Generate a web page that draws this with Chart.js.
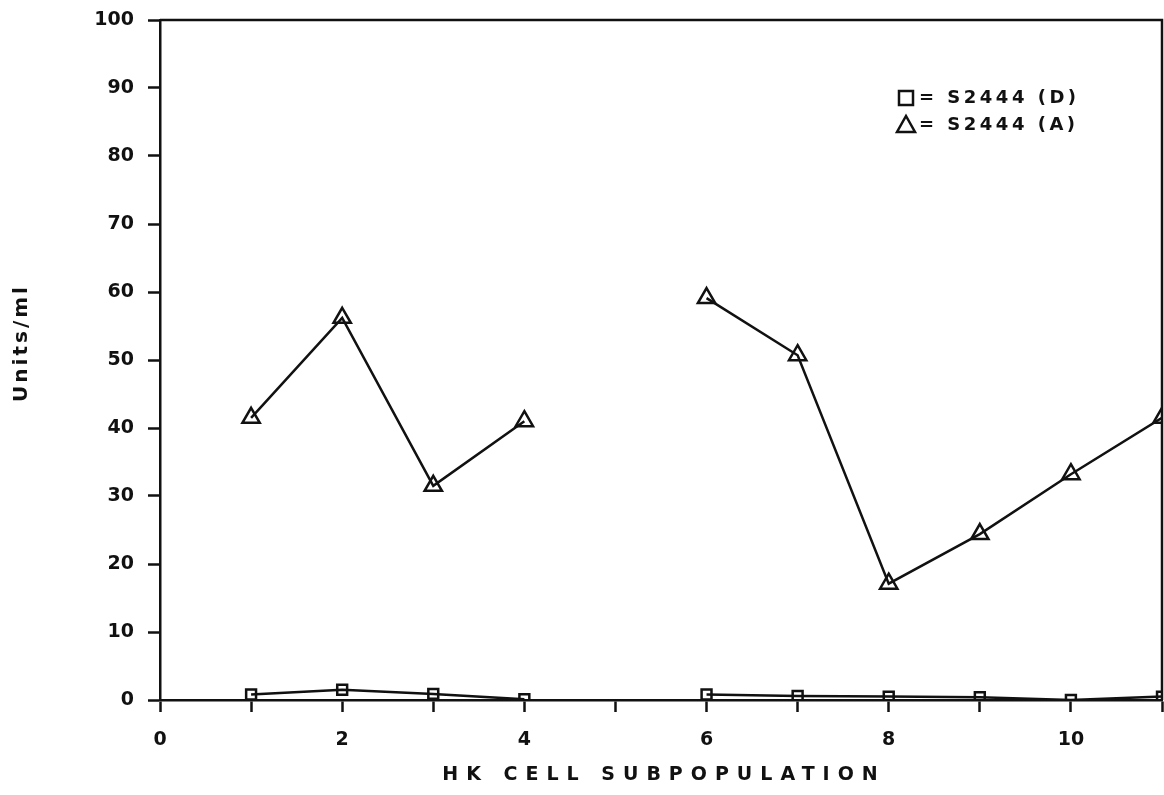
<!DOCTYPE html>
<html>
<head>
<meta charset="utf-8">
<script src="https://cdn.jsdelivr.net/npm/chart.js@4.4.0/dist/chart.umd.min.js"></script>
<style>
    html, body { margin: 0; padding: 0; background: #fff; overflow: hidden; }
    #wrap { width: 1164px; height: 795px; }
</style>
</head>
<body>
<div id="wrap"><canvas id="chart"></canvas></div>
<script>
// Data (x = HK cell subpopulation, null = no point at 5)
const subpops = [1, 2, 3, 4, 5, 6, 7, 8, 9, 10, 11];
const s2444D = [0.8, 1.5, 0.9, 0.1, null, 0.8, 0.6, 0.5, 0.4, 0.0, 0.5];
const s2444A = [41.5, 56.2, 31.5, 41.0, null, 59.1, 50.7, 17.1, 24.4, 33.2, 41.5];
const xTickLabels = ['0', '', '2', '', '4', '', '6', '', '8', '', '10', ''];
const legendItems = ['= S2444 (D)', '= S2444 (A)'];
const xTitle = 'HK CELL SUBPOPULATION';
const yTitle = 'Units/ml';

const FONT = "'DejaVu Sans', sans-serif";
const INK = '#111';

function toPoints(values) {
    return subpops.map((x, i) => ({ x: x, y: values[i] }));
}

// Box round the plot area, axis titles and legend (spaced out like the original)
const framePlugin = {
    id: 'frame',
    afterDraw(chart) {
        const ctx = chart.ctx;
        const a = chart.chartArea;
        ctx.save();
        ctx.strokeStyle = INK;
        ctx.lineWidth = 2.5;
        ctx.beginPath();
        ctx.moveTo(a.left, a.top);
        ctx.lineTo(a.right, a.top);
        ctx.lineTo(a.right, a.bottom);
        ctx.stroke();

        ctx.fillStyle = INK;
        ctx.textAlign = 'center';
        ctx.textBaseline = 'middle';

        // x title
        ctx.font = 'bold 19px ' + FONT;
        ctx.letterSpacing = '8px';
        ctx.fillText(xTitle, 664, 775);

        // y title
        ctx.save();
        ctx.translate(22, 343);
        ctx.rotate(-Math.PI / 2);
        ctx.font = 'bold 20px ' + FONT;
        ctx.letterSpacing = '3px';
        ctx.fillText(yTitle, 0, 0);
        ctx.restore();

        // legend
        ctx.font = 'bold 18px ' + FONT;
        ctx.letterSpacing = '3.5px';
        ctx.textAlign = 'left';
        const lx = 906, ly = [98, 125];
        ctx.lineWidth = 2.5;
        ctx.strokeRect(lx - 7, ly[0] - 7, 14, 14);
        ctx.beginPath();
        ctx.moveTo(lx - 9, ly[1] + 7);
        ctx.lineTo(lx + 9, ly[1] + 7);
        ctx.lineTo(lx, ly[1] - 9);
        ctx.closePath();
        ctx.stroke();
        legendItems.forEach((t, i) => ctx.fillText(t, lx + 13, ly[i]));
        ctx.letterSpacing = '0px';
        ctx.restore();
    }
};

new Chart(document.getElementById('chart'), {
    type: 'line',
    data: {
        datasets: [
            {
                label: 'S2444 (D)',
                data: toPoints(s2444D),
                borderColor: INK,
                borderWidth: 2.5,
                pointStyle: 'rect',
                pointRadius: 7,
                pointBorderWidth: 2.5,
                pointBackgroundColor: 'rgba(255,255,255,0)',
                pointBorderColor: INK,
                spanGaps: false
            },
            {
                label: 'S2444 (A)',
                data: toPoints(s2444A),
                borderColor: INK,
                borderWidth: 2.5,
                pointStyle: 'triangle',
                pointRadius: 10,
                pointBorderWidth: 2.5,
                pointBackgroundColor: 'rgba(255,255,255,0)',
                pointBorderColor: INK,
                spanGaps: false
            }
        ]
    },
    options: {
        responsive: true,
        maintainAspectRatio: false,
        animation: false,
        layout: { autoPadding: false, padding: { top: 20, right: 2, left: 0, bottom: 0 } },
        plugins: {
            legend: { display: false },
            tooltip: { enabled: false }
        },
        scales: {
            x: {
                type: 'linear',
                min: 0,
                max: 11,
                afterFit: (s) => { s.height = 95; s.paddingLeft = 0; s.paddingRight = 0; },
                ticks: {
                    stepSize: 1,
                    autoSkip: false,
                    maxRotation: 0,
                    padding: 17,
                    color: INK,
                    font: { family: FONT, size: 19, weight: 'bold' },
                    callback: (v) => xTickLabels[v]
                },
                grid: {
                    drawOnChartArea: false,
                    tickLength: 12,
                    tickWidth: 2.5,
                    tickColor: INK
                },
                border: { color: INK, width: 2.5 }
            },
            y: {
                min: 0,
                max: 100,
                afterFit: (s) => { s.width = 160; s.paddingTop = 0; s.paddingBottom = 0; },
                ticks: {
                    stepSize: 10,
                    padding: 14,
                    color: INK,
                    font: { family: FONT, size: 19, weight: 'bold' }
                },
                grid: {
                    drawOnChartArea: false,
                    tickLength: 12,
                    tickWidth: 2.5,
                    tickColor: INK
                },
                border: { color: INK, width: 2.5 }
            }
        }
    },
    plugins: [framePlugin]
});
</script>
</body>
</html>
